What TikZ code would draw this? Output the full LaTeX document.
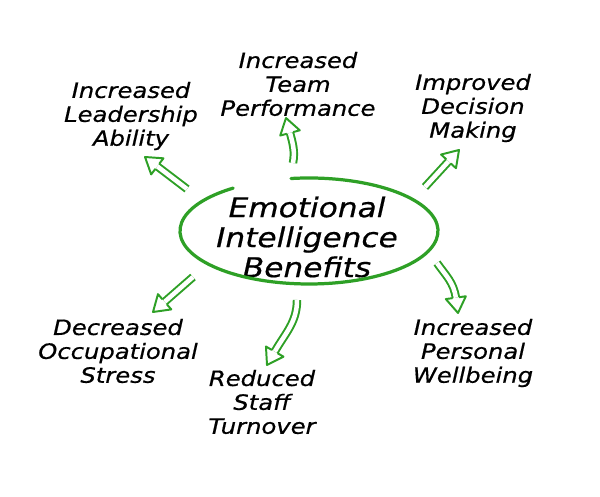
\documentclass[tikz,border=0pt]{standalone}
\usepackage{fontspec}
\newfontfamily\handfont{DejaVu Sans}[FakeStretch=1.15, FakeBold=0.6]
\usetikzlibrary{calc}
\definecolor{eigreen}{RGB}{46,160,38}

% hollow head at #1 pointing to angle #2, leaves coordinate (#1 base)
\newcommand{\hollowhead}[2]{%
  \path[shift={(#1)}, rotate=#2] (-11pt,0) coordinate (#1 base);
  \draw[arrow head, shift={(#1)}, rotate=#2] (-11pt,2.3pt) -- (-11pt,7.2pt)
    -- (0,0) -- (-11pt,-7.2pt) -- (-11pt,-2.3pt);}

\begin{document}
\begin{tikzpicture}[x=0.025cm, y=0.025cm]
      \tikzset{benefit/.style={font=\handfont\itshape\fontsize{15}{17}\selectfont,
          align=center, inner sep=0pt},
        title text/.style={font=\handfont\itshape\fontsize{19.3}{21.3}\selectfont,
          align=center, inner sep=0pt},
        arrow shaft/.style={draw=eigreen, line width=1.4pt,
          double=white, double distance=3.2pt},
        arrow head/.style={draw=eigreen, line width=1.4pt, line join=round}
      }
      \useasboundingbox (0,0) rectangle (600,497);

      \node [title text] (title) at (307,260) {Emotional\\Intelligence\\Benefits};
      \coordinate (ec) at (309,266);
      \draw [eigreen, line width=2.3pt, line cap=round] ($(ec)+(126:129 and 53)$)
        arc [start angle=126, end angle=458, x radius=129, y radius=53];

      \node [benefit] (lead) at (131,381) {Increased\\Leadership\\Ability};
      \node [benefit] (team) at (298,413) {Increased\\Team\\Performance};
      \node [benefit] (decision) at (473,389) {Improved\\Decision\\Making};
      \node [benefit] (stress) at (118,146) {Decreased\\Occupational\\Stress};
      \node [benefit] (staff) at (262,95) {Reduced\\Staff\\Turnover};
      \node [benefit] (wellbeing) at (473,144) {Increased\\Personal\\Wellbeing};

      \coordinate (lead tail) at (187,308);
      \coordinate (lead tip) at (145,340);
      \coordinate (team tail) at (293,334);
      \coordinate (team tip) at (286,379);
      \coordinate (decision tail) at (425,310);
      \coordinate (decision tip) at (459,347);
      \coordinate (stress tail) at (193,220);
      \coordinate (stress tip) at (153,185);
      \coordinate (staff tail) at (297,197);
      \coordinate (staff tip) at (267,132);
      \coordinate (wellbeing tail) at (437,234);
      \coordinate (wellbeing tip) at (458,184);

      \hollowhead{lead tip}{142.7}
      \hollowhead{team tip}{105}
      \hollowhead{decision tip}{47.4}
      \hollowhead{stress tip}{221.2}
      \hollowhead{staff tip}{240}
      \hollowhead{wellbeing tip}{-82}

      \draw [arrow shaft] (lead tail) -- (lead tip base);
      \draw [arrow shaft] (team tail) to [out=80, in=285] (team tip base);
      \draw [arrow shaft] (decision tail) -- (decision tip base);
      \draw [arrow shaft] (stress tail) -- (stress tip base);
      \draw [arrow shaft] (staff tail) to [out=-90, in=60] (staff tip base);
      \draw [arrow shaft] (wellbeing tail) to [out=-55, in=98] (wellbeing tip base);
    \end{tikzpicture}
\end{document}
